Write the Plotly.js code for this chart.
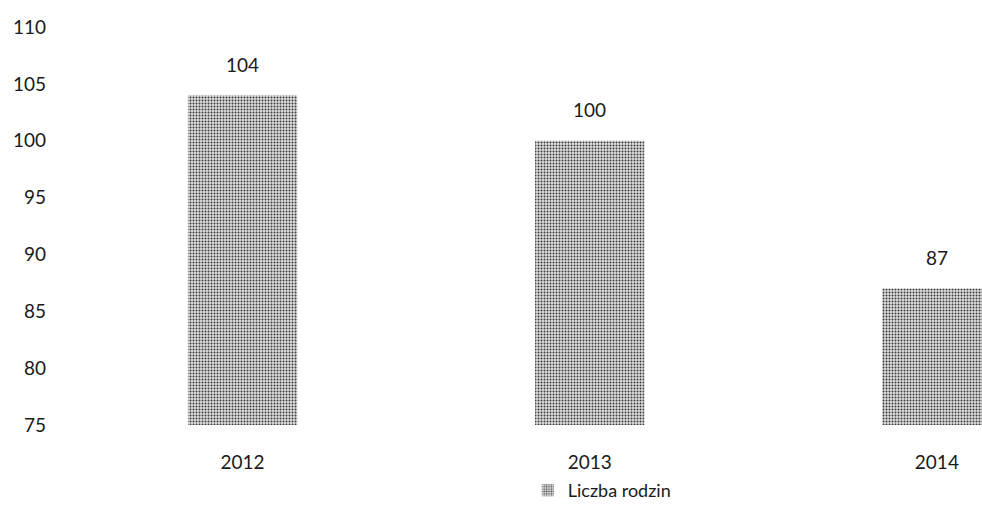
<!DOCTYPE html>
<html>
<head>
<meta charset="utf-8">
<script src="https://cdn.plot.ly/plotly-3.0.1.min.js"></script>
<style>html,body{margin:0;padding:0;background:#fff;}#chart{width:982px;height:519px;}</style>
</head>
<body>
<div id="chart"></div>
<script>
const years = ['2012', '2013', '2014'];
const families = [104, 100, 87];
const seriesName = 'Liczba rodzin';
const yTicks = [75, 80, 85, 90, 95, 100, 105, 110];

const font = {family: 'Lato, "Open Sans", sans-serif', size: 19, color: '#1a1a1a'};

const trace = {
  type: 'bar',
  x: years,
  y: families,
  name: seriesName,
  width: 0.315,
  marker: {
    color: '#c4c4c4',
    line: {width: 0},
    pattern: {shape: '.', fgcolor: '#3a3a3a', bgcolor: '#dedede', size: 3, solidity: 0.35}
  },
  showlegend: true,
  hoverinfo: 'none'
};

const annotations = years.map((yr, i) => ({
  x: i, y: families[i], xref: 'x', yref: 'y',
  text: String(families[i]), showarrow: false, yshift: 31, font: font
}));

const layout = {
  width: 982, height: 519,
  margin: {l: 69, r: 0, t: 27, b: 94},
  paper_bgcolor: '#fff', plot_bgcolor: '#fff',
  font: font,
  xaxis: {type: 'category', range: [-0.5, 2.13], showgrid: false, showline: false,
    zeroline: false, ticks: '', tickfont: font, ticklabelstandoff: 24},
  yaxis: {range: [75, 110], tickvals: yTicks, showgrid: false, showline: false,
    zeroline: false, ticks: '', tickfont: font, ticklabelstandoff: 22},
  showlegend: true,
  legend: {orientation: 'h', x: 0.5025, xanchor: 'left', y: -0.165, yanchor: 'middle',
    font: {family: font.family, size: 18, color: '#1a1a1a'}, itemwidth: 30},
  annotations: annotations,
  bargap: 0.685
};

Plotly.newPlot('chart', [trace], layout, {displayModeBar: false, staticPlot: true});
</script>
</body>
</html>
